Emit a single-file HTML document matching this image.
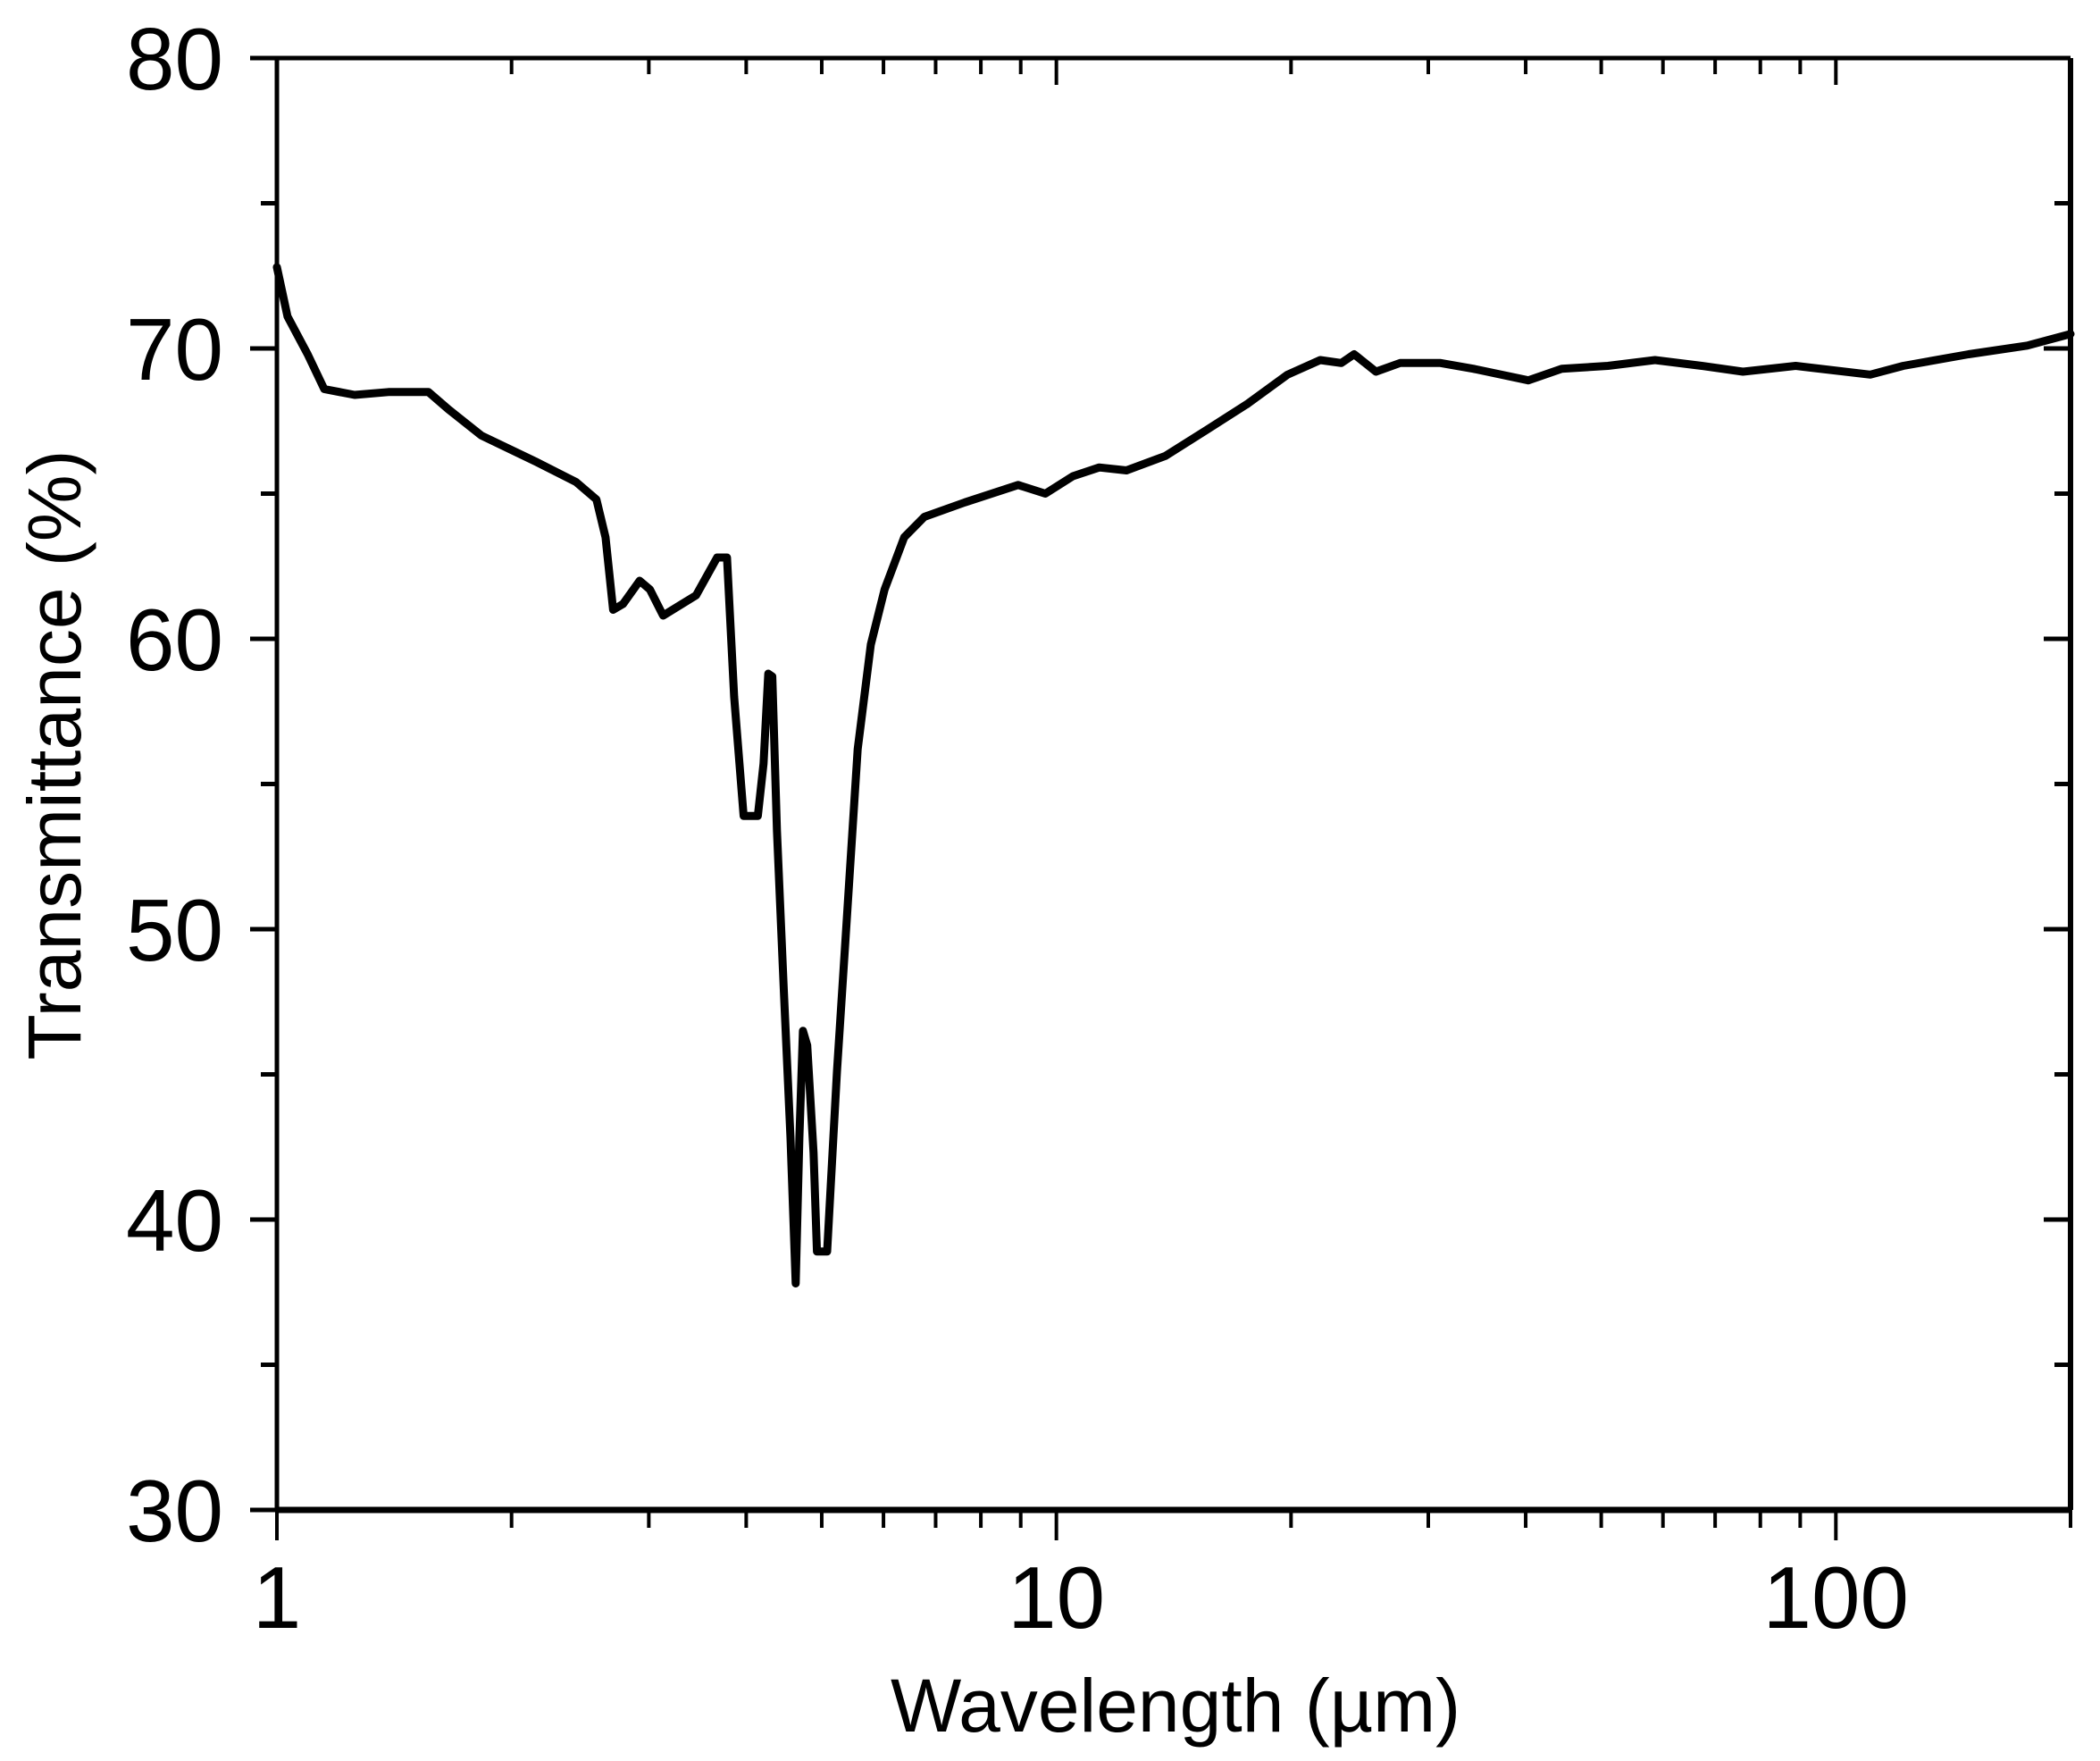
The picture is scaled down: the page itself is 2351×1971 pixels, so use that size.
<!DOCTYPE html>
<html><head><meta charset="utf-8"><style>
html,body{margin:0;padding:0;background:#fff;}
svg{display:block;font-family:"Liberation Sans",Arial,sans-serif;}
</style></head><body>
<svg id="chart" width="2351" height="1971" viewBox="0 0 2351 1971" xmlns="http://www.w3.org/2000/svg">
<rect x="0" y="0" width="2351" height="1971" fill="#fff"/>
<g id="axes"></g>
<path id="curve" fill="none" stroke="#000" stroke-width="9" stroke-linejoin="round" stroke-linecap="round"/>
<text x="1316" y="1938" font-size="84" text-anchor="middle">Wavelength (µm)</text>
<text transform="translate(90,845) rotate(-90)" font-size="84" text-anchor="middle">Transmittance (%)</text>
</svg>
<script>
const wavelength = [1,1.032,1.095,1.15,1.258,1.39,1.565,1.66,1.83,2.15,2.42,2.57,2.64,2.70,2.78,2.92,3.01,3.13,3.45,3.67,3.78,3.86,3.97,4.14,4.21,4.27,4.32,4.38,4.47,4.56,4.63,4.68,4.73,4.79,4.88,4.93,5.08,5.23,5.38,5.56,5.78,6.02,6.38,6.77,7.63,8.93,9.68,10.5,11.35,12.3,13.8,15.6,17.6,19.8,21.8,23.2,24.1,25.7,27.6,31.1,34.3,40.3,44.5,51.0,58.6,67.3,76.0,88.8,110.7,122,148,176,200];
const transmittance = [72.8,71.1,69.8,68.6,68.4,68.5,68.5,67.9,67.0,66.1,65.4,64.8,63.5,61.0,61.2,62.0,61.7,60.8,61.5,62.8,62.8,58.0,53.9,53.9,55.7,58.8,58.7,53.4,47.9,42.8,37.8,42.8,46.5,46.0,42.3,38.9,38.9,45.1,50.2,56.2,59.8,61.7,63.5,64.2,64.7,65.3,65.0,65.6,65.9,65.8,66.3,67.2,68.1,69.1,69.6,69.5,69.8,69.2,69.5,69.5,69.3,68.9,69.3,69.4,69.6,69.4,69.2,69.4,69.1,69.4,69.8,70.1,70.5];
const yTicks = [30,40,50,60,70,80];
const xTicks = [1,10,100];
const xTickLabels = ["1","10","100"];

const L=310,R=2318,T=65,B=1690;
const xMin=1,xMax=200,yMin=30,yMax=80;
const dec=(R-L)/Math.log10(xMax/xMin);
function X(v){return L+Math.log10(v/xMin)*dec;}
function Y(v){return B-(v-yMin)/(yMax-yMin)*(B-T);}
const NS="http://www.w3.org/2000/svg";
const axes=document.getElementById('axes');
function ln(x1,y1,x2,y2,w,name){const e=document.createElementNS(NS,'line');e.setAttribute('x1',x1);e.setAttribute('y1',y1);e.setAttribute('x2',x2);e.setAttribute('y2',y2);e.setAttribute('stroke','#000');e.setAttribute('stroke-width',w);


axes.appendChild(e);}
function tx(x,y,s,anchor,name){const e=document.createElementNS(NS,'text');e.setAttribute('x',x);e.setAttribute('y',y);e.setAttribute('font-size','98');e.setAttribute('text-anchor',anchor);e.textContent=s;


axes.appendChild(e);}
ln(L,T,R,T,5,'top-axis');ln(L,B,R,B,7,'bottom-axis');ln(L,T,L,B,5,'left-axis');ln(R,T,R,B,6,'right-axis');
for(let v=yMin;v<=yMax;v+=5){const y=Y(v);const major=(v%10===0);const len=major?30:18;
ln(L-len,y,L,y,5,'y-tick');ln(R-len,y,R,y,5,'y-tick-right');}
yTicks.forEach(v=>tx(250,Y(v)+35,String(v),'end','y-tick-label'));
for(let d=1;d<=100;d*=10){for(let k=1;k<=9;k++){const v=d*k;if(v>xMax)break;const x=X(v);const major=(k===1);
ln(x,B,x,B+(major?34:20),4,'x-tick');ln(x,T,x,T+(major?30:18),4,'x-tick-top');}}
xTicks.forEach((v,i)=>tx(X(v),1822,xTickLabels[i],'middle','x-tick-label'));
let d='';wavelength.forEach((w,i)=>{d+=(i?'L':'M')+X(w).toFixed(1)+' '+Y(transmittance[i]).toFixed(1);});
document.getElementById('curve').setAttribute('d',d);
</script>
</body></html>
